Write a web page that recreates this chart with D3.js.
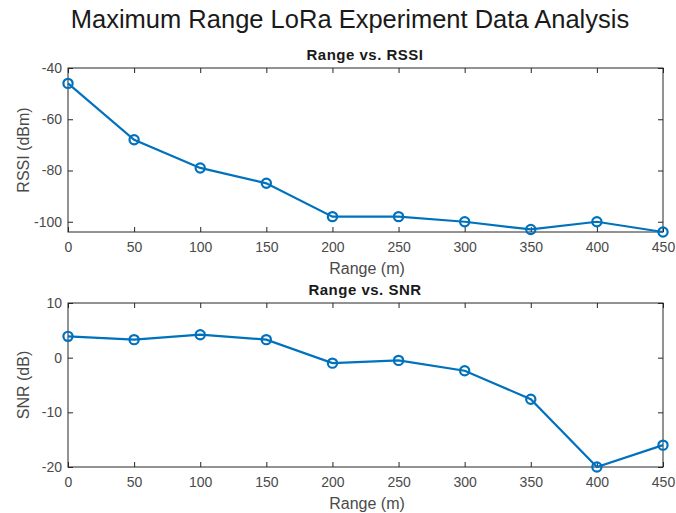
<!DOCTYPE html>
<html>
<head>
<meta charset="utf-8">
<script src="https://cdn.jsdelivr.net/npm/d3@7"></script>
<style>
  body { margin: 0; background: #fff; }
  text { font-family: "Liberation Sans", Arial, sans-serif; }
  .tick text { fill: #4a4a4a; font-size: 14px; }
  .domain, .tick line { stroke: #262626; }
</style>
</head>
<body>
<div class="chart"></div>
<script>
var svgWidth = 676;
var svgHeight = 513;

// data
var ranges = [0, 50, 100, 150, 200, 250, 300, 350, 400, 450];
var rssi = [-46, -68, -79, -85, -98, -98, -100, -103, -100, -104];
var snr = [3.9, 3.3, 4.2, 3.3, -1.0, -0.5, -2.4, -7.6, -20, -16];
var xTicks = [0, 50, 100, 150, 200, 250, 300, 350, 400, 450];
var rssiTicks = [-40, -60, -80, -100];
var snrTicks = [10, 0, -10, -20];

var lineColor = "#0072BD";
var plainFormat = function(d) { return String(d); };  // hyphen minus like MATLAB

var svg = d3.select(".chart")
  .append("svg")
  .attr("width", svgWidth)
  .attr("height", svgHeight);

svg.append("text")
  .attr("x", 350)
  .attr("y", 28)
  .attr("text-anchor", "middle")
  .style("font-size", "25.5px")
  .style("fill", "#1a1a1a")
  .text("Maximum Range LoRa Experiment Data Analysis");

function drawPanel(opts) {
  var left = 68, right = 663;
  var top = opts.top, bottom = opts.bottom;

  var x = d3.scaleLinear().domain([0, 450]).range([left, right]);
  var y = d3.scaleLinear().domain(opts.yDomain).range([bottom, top]);

  var g = svg.append("g");

  // box
  g.append("rect")
    .attr("x", left).attr("y", top)
    .attr("width", right - left).attr("height", bottom - top)
    .attr("fill", "none").attr("stroke", "#262626").attr("stroke-width", 1);

  // bottom axis, ticks pointing in
  var xAxis = g.append("g")
    .attr("transform", "translate(0," + bottom + ")")
    .call(d3.axisBottom(x).tickValues(xTicks).tickFormat(plainFormat)
      .tickSizeInner(-5).tickSizeOuter(0).tickPadding(10));
  xAxis.select(".domain").remove();

  // top ticks
  g.append("g")
    .attr("transform", "translate(0," + top + ")")
    .call(d3.axisTop(x).tickValues(xTicks).tickSizeInner(-5).tickSizeOuter(0).tickFormat(""))
    .select(".domain").remove();

  // left axis
  var yAxis = g.append("g")
    .attr("transform", "translate(" + left + ",0)")
    .call(d3.axisLeft(y).tickValues(opts.yTicks).tickFormat(plainFormat)
      .tickSizeInner(-5).tickSizeOuter(0).tickPadding(6));
  yAxis.select(".domain").remove();

  // right ticks
  g.append("g")
    .attr("transform", "translate(" + right + ",0)")
    .call(d3.axisRight(y).tickValues(opts.yTicks).tickSizeInner(-5).tickSizeOuter(0).tickFormat(""))
    .select(".domain").remove();

  var line = d3.line()
    .x(function(d, i) { return x(ranges[i]); })
    .y(function(d) { return y(d); });

  g.append("path")
    .datum(opts.values)
    .attr("d", line)
    .attr("fill", "none")
    .attr("stroke", lineColor)
    .attr("stroke-width", 2.2);

  g.selectAll("circle.pt")
    .data(opts.values)
    .enter()
    .append("circle")
    .attr("class", "pt")
    .attr("cx", function(d, i) { return x(ranges[i]); })
    .attr("cy", function(d) { return y(d); })
    .attr("r", 4.6)
    .attr("fill", "none")
    .attr("stroke", lineColor)
    .attr("stroke-width", 2.2);

  // subplot title
  g.append("text")
    .attr("x", 365)
    .attr("y", top - 8)
    .attr("text-anchor", "middle")
    .style("font-size", "15px")
    .style("font-weight", "bold")
    .style("letter-spacing", "0.5px")
    .style("fill", "#1a1a1a")
    .text(opts.title);

  // x label
  g.append("text")
    .attr("x", 367)
    .attr("y", bottom + 41.5)
    .attr("text-anchor", "middle")
    .style("font-size", "16px")
    .style("fill", "#4a4a4a")
    .text("Range (m)");

  // y label
  g.append("text")
    .attr("transform", "translate(29," + ((top + bottom) / 2) + ") rotate(-90)")
    .attr("text-anchor", "middle")
    .style("font-size", "16px")
    .style("fill", "#4a4a4a")
    .text(opts.yLabel);
}

drawPanel({
  top: 68, bottom: 232,
  yDomain: [-104, -40], yTicks: rssiTicks,
  values: rssi, title: "Range vs. RSSI", yLabel: "RSSI (dBm)"
});

drawPanel({
  top: 303, bottom: 467,
  yDomain: [-20, 10], yTicks: snrTicks,
  values: snr, title: "Range vs. SNR", yLabel: "SNR (dB)"
});
</script>
</body>
</html>
